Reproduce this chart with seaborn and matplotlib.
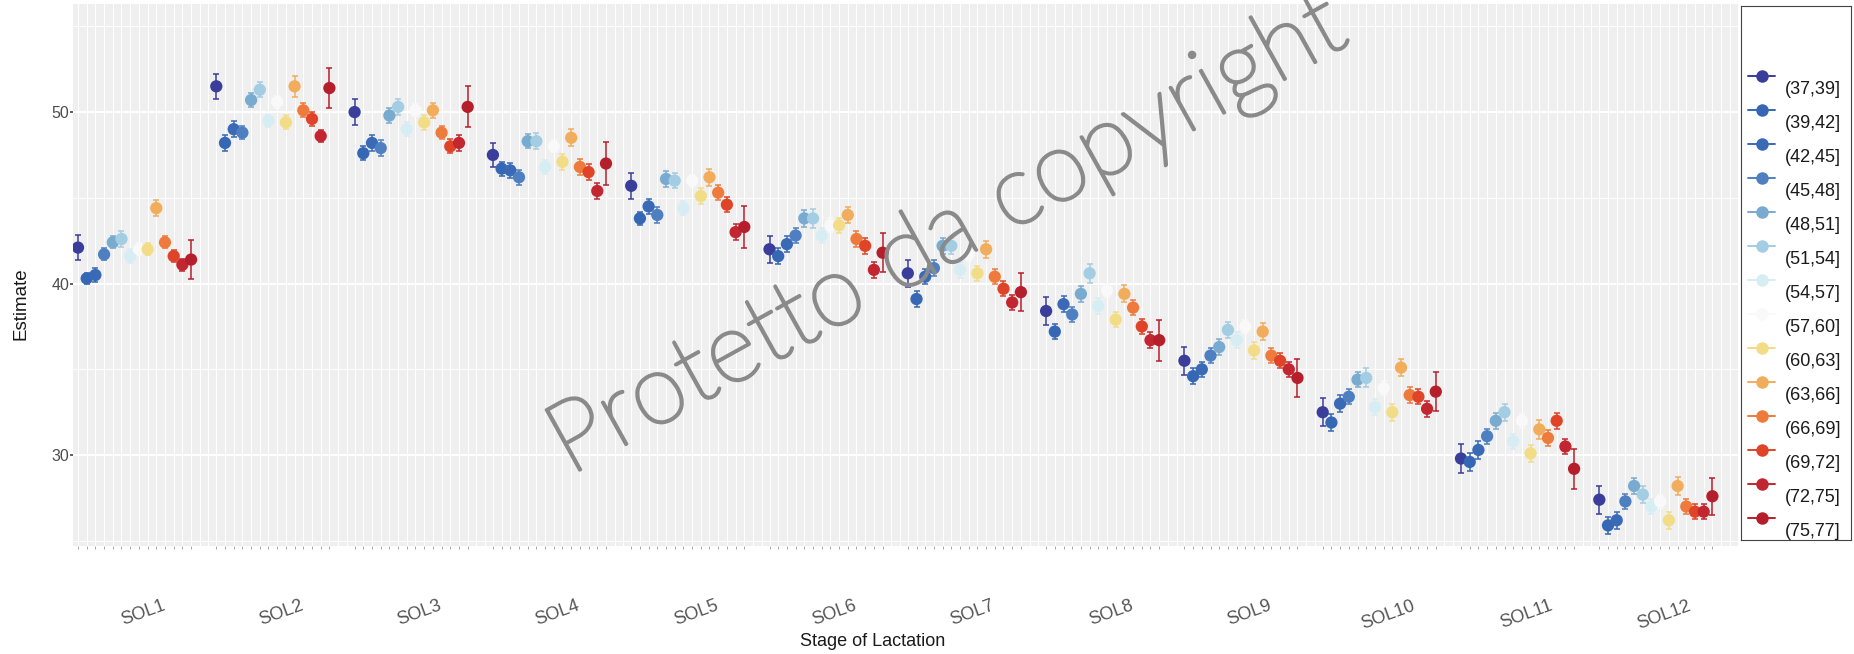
import numpy as np
import pandas as pd
import matplotlib
matplotlib.use("Agg")
import matplotlib.pyplot as plt
import matplotlib.patheffects as pe
import seaborn as sns

# Stage-of-lactation groups and age classes
stages = ["SOL1", "SOL2", "SOL3", "SOL4", "SOL5", "SOL6",
          "SOL7", "SOL8", "SOL9", "SOL10", "SOL11", "SOL12"]
age_classes = ["(37,39]", "(39,42]", "(42,45]", "(45,48]", "(48,51]", "(51,54]", "(54,57]",
               "(57,60]", "(60,63]", "(63,66]", "(66,69]", "(69,72]", "(72,75]", "(75,77]"]
age_colors = ["#3a3d9a", "#3567b4", "#3a6ab5", "#4e7fc0", "#79abd0", "#a3cde2", "#d6edf4",
              "#f9f9f9", "#f3dc86", "#f1ad5b", "#ee7a3c", "#e04428", "#c22630", "#b51f2b"]

# Estimates per stage (one value per age class)
est_sol1 = [42.1, 40.3, 40.5, 41.7, 42.4, 42.6, 41.6, 42.0, 42.0, 44.4, 42.4, 41.6, 41.1, 41.4]
est_sol2 = [51.5, 48.2, 49.0, 48.8, 50.7, 51.3, 49.5, 50.6, 49.4, 51.5, 50.1, 49.6, 48.6, 51.4]
est_sol3 = [50.0, 47.6, 48.2, 47.9, 49.8, 50.3, 49.0, 50.1, 49.4, 50.1, 48.8, 48.0, 48.2, 50.3]
est_sol4 = [47.5, 46.7, 46.6, 46.2, 48.3, 48.3, 46.8, 48.0, 47.1, 48.5, 46.8, 46.5, 45.4, 47.0]
est_sol5 = [45.7, 43.8, 44.5, 44.0, 46.1, 46.0, 44.4, 46.0, 45.1, 46.2, 45.3, 44.6, 43.0, 43.3]
est_sol6 = [42.0, 41.6, 42.3, 42.8, 43.8, 43.8, 42.8, 43.4, 43.4, 44.0, 42.6, 42.2, 40.8, 41.8]
est_sol7 = [40.6, 39.1, 40.4, 40.9, 42.2, 42.2, 40.8, 41.7, 40.6, 42.0, 40.4, 39.7, 38.9, 39.5]
est_sol8 = [38.4, 37.2, 38.8, 38.2, 39.4, 40.6, 38.7, 39.6, 37.9, 39.4, 38.6, 37.5, 36.7, 36.7]
est_sol9 = [35.5, 34.6, 35.0, 35.8, 36.3, 37.3, 36.7, 37.5, 36.1, 37.2, 35.8, 35.5, 35.0, 34.5]
est_sol10 = [32.5, 31.9, 33.0, 33.4, 34.4, 34.5, 32.8, 33.9, 32.5, 35.1, 33.5, 33.4, 32.7, 33.7]
est_sol11 = [29.8, 29.6, 30.3, 31.1, 32.0, 32.5, 30.8, 32.0, 30.1, 31.5, 31.0, 32.0, 30.5, 29.2]
est_sol12 = [27.4, 25.9, 26.2, 27.3, 28.2, 27.7, 27.0, 27.3, 26.2, 28.2, 27.0, 26.7, 26.7, 27.6]

# Half-widths of the error bars
err_sol1 = [0.74, 0.30, 0.40, 0.35, 0.35, 0.45, 0.40, 0.35, 0.35, 0.45, 0.35, 0.35, 0.35, 1.13]
err_sol2 = [0.74, 0.45, 0.45, 0.40, 0.40, 0.45, 0.35, 0.35, 0.40, 0.60, 0.40, 0.40, 0.35, 1.19]
err_sol3 = [0.78, 0.40, 0.45, 0.45, 0.45, 0.45, 0.40, 0.35, 0.45, 0.45, 0.40, 0.40, 0.45, 1.20]
err_sol4 = [0.68, 0.40, 0.45, 0.45, 0.40, 0.45, 0.40, 0.35, 0.45, 0.50, 0.45, 0.45, 0.45, 1.24]
err_sol5 = [0.77, 0.40, 0.45, 0.45, 0.45, 0.45, 0.40, 0.35, 0.45, 0.50, 0.45, 0.45, 0.45, 1.20]
err_sol6 = [0.80, 0.45, 0.45, 0.45, 0.50, 0.55, 0.45, 0.40, 0.45, 0.45, 0.45, 0.45, 0.45, 1.15]
err_sol7 = [0.80, 0.45, 0.45, 0.45, 0.45, 0.45, 0.45, 0.40, 0.45, 0.50, 0.45, 0.45, 0.45, 1.10]
err_sol8 = [0.79, 0.45, 0.45, 0.45, 0.45, 0.55, 0.45, 0.40, 0.45, 0.50, 0.45, 0.45, 0.45, 1.19]
err_sol9 = [0.81, 0.45, 0.45, 0.45, 0.45, 0.45, 0.45, 0.40, 0.50, 0.50, 0.45, 0.45, 0.45, 1.13]
err_sol10 = [0.82, 0.50, 0.50, 0.45, 0.45, 0.55, 0.45, 0.40, 0.50, 0.50, 0.45, 0.45, 0.45, 1.12]
err_sol11 = [0.83, 0.50, 0.50, 0.45, 0.45, 0.50, 0.45, 0.40, 0.50, 0.55, 0.45, 0.45, 0.45, 1.15]
err_sol12 = [0.82, 0.50, 0.50, 0.45, 0.45, 0.50, 0.45, 0.40, 0.50, 0.55, 0.45, 0.45, 0.45, 1.09]

estimates = [est_sol1, est_sol2, est_sol3, est_sol4, est_sol5, est_sol6,
             est_sol7, est_sol8, est_sol9, est_sol10, est_sol11, est_sol12]
errors = [err_sol1, err_sol2, err_sol3, err_sol4, err_sol5, err_sol6,
          err_sol7, err_sol8, err_sol9, err_sol10, err_sol11, err_sol12]

# Dodge offset between neighbouring age classes within a stage
dodge_step = 0.0629
n_age = len(age_classes)
centre = (n_age - 1) / 2

rows = []
for g, stage in enumerate(stages):
    for j, age in enumerate(age_classes):
        rows.append({
            "stage": stage,
            "age": age,
            "pos": g + (j - centre) * dodge_step,
            "estimate": estimates[g][j],
            "err": errors[g][j],
        })
df = pd.DataFrame(rows)

sns.set_theme(style="darkgrid")
plt.rcParams["font.family"] = ["Liberation Sans", "DejaVu Sans"]

W, H = 1854, 654
fig = plt.figure(figsize=(W / 100, H / 100), dpi=100)
fig.patch.set_facecolor("white")

def frac(x0, y0, x1, y1):
    return [x0 / W, 1 - y1 / H, (x1 - x0) / W, (y1 - y0) / H]

ax = fig.add_axes(frac(73, 4, 1738, 546))
ax.set_facecolor("#efefef")

xmin, xmax = -0.445, 11.594
ax.set_xlim(xmin, xmax)
ax.set_ylim(24.7, 56.3)

# background grid: one thin line per dodge slot, white lines at y breaks
ax.grid(False)
slot_lines = [g + (j - centre) * dodge_step for g in range(len(stages)) for j in range(n_age + 2)]
for x in slot_lines:
    if xmin < x < xmax:
        ax.axvline(x, color="white", lw=0.8, zorder=1)
for y in [30, 40, 50]:
    ax.axhline(y, color="white", lw=1.4, zorder=1)
for y in [25, 35, 45, 55]:
    ax.axhline(y, color="white", lw=0.7, zorder=1)

# error bars first, then the points on top
palette = dict(zip(age_classes, age_colors))
for age in age_classes:
    sub = df[df["age"] == age]
    ax.errorbar(sub["pos"], sub["estimate"], yerr=sub["err"], fmt="none",
                ecolor=palette[age], elinewidth=1.1, capsize=2.4, capthick=1.1,
                zorder=3)
sns.scatterplot(data=df, x="pos", y="estimate", hue="age", hue_order=age_classes,
                palette=palette, s=78, linewidth=0, legend=False, ax=ax, zorder=4)

ax.set_yticks([30, 40, 50])
ax.set_yticklabels(["30", "40", "50"])

# stage labels sit a little right of each group's centre
label_offset = 0.06
ax.set_xticks([g + label_offset for g in range(len(stages))])
ax.set_xticklabels(stages, rotation=20, ha="center")
ax.set_xticks(df["pos"].values, minor=True)

for s in ax.spines.values():
    s.set_visible(False)

ax.tick_params(axis="y", which="major", length=2, width=1.2, color="#444444",
               labelsize=11.5, labelcolor="#4d4d4d", pad=0.8, left=True)
ax.tick_params(axis="y", which="minor", length=0)
ax.tick_params(axis="x", which="major", length=0, labelsize=13,
               labelcolor="#555555", pad=37)
ax.tick_params(axis="x", which="minor", length=2, width=0.6, color="#9a9a9a",
               bottom=True)

ax.set_xlabel("")
ax.set_ylabel("")
fig.text(873 / W, 1 - 642 / H, "Stage of Lactation", ha="center", va="center",
         fontsize=13, color="#1a1a1a")
fig.text(21 / W, 1 - 304 / H, "Estimate", ha="center", va="center",
         rotation=90, fontsize=13.5, color="#1a1a1a")

# legend panel
lax = fig.add_axes(frac(1741, 6, 1851, 540))
lax.set_xlim(0, 110)
lax.set_ylim(534, 0)
lax.set_xticks([])
lax.set_yticks([])
lax.set_facecolor("white")
for s in lax.spines.values():
    s.set_color("#444444")
    s.set_linewidth(0.8)
for k, (age, col) in enumerate(zip(age_classes, age_colors)):
    ym = 70 + 34.0 * k
    lax.plot([7, 34], [ym, ym], color=col, lw=1.4)
    lax.plot([20.5], [ym], "o", color=col, ms=9, mec="none")
    lax.text(44, ym + 13, age, fontsize=13, color="#1a1a1a", va="center", ha="left")

wm_color = "#8a8a8a"
fig.text(948 / W, 1 - 236 / H, "Protetto da copyright", ha="center", va="center",
         rotation=29, fontsize=71, color=wm_color, family=["Lato", "DejaVu Sans"],
         fontweight="light", zorder=10,
         path_effects=[pe.withStroke(linewidth=2.2, foreground=wm_color)])

fig.savefig("out.png", dpi=100)
